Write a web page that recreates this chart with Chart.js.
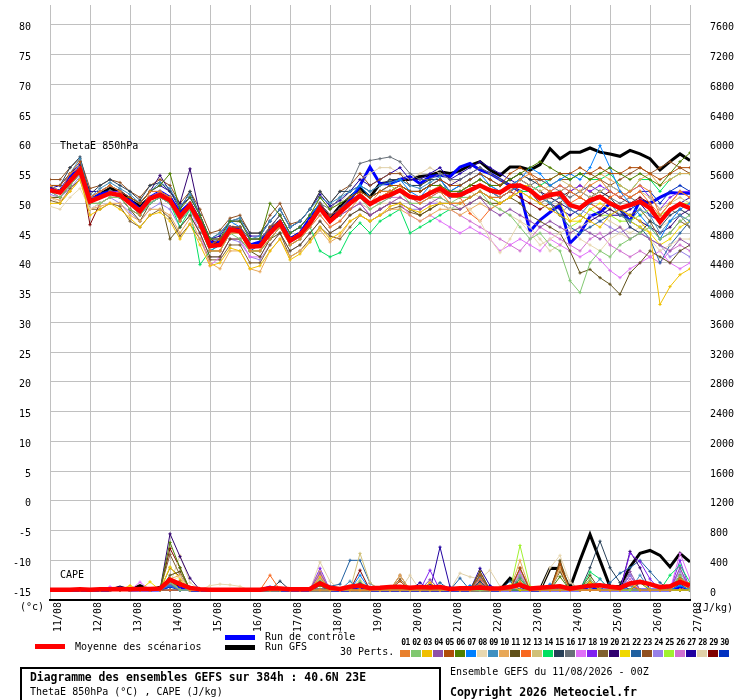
<!DOCTYPE html>
<html><head><meta charset="utf-8">
<script src="https://cdn.jsdelivr.net/npm/chart.js@4.4.1/dist/chart.umd.min.js"></script>
<style>
body{margin:0;background:#fff;}
#wrap{position:relative;width:740px;height:700px;font-family:"DejaVu Sans Mono",monospace;color:#000;overflow:hidden;}
#c{position:absolute;left:0;top:0;}
.t{position:absolute;white-space:pre;font-size:10px;line-height:12px;}
.b{font-weight:bold;}
.sw{position:absolute;}
</style></head><body>
<div id="wrap"><canvas id="c" width="740" height="700"></canvas></div>
<script>
const hours=[0,6,12,18,24,30,36,42,48,54,60,66,72,78,84,90,96,102,108,114,120,126,132,138,144,150,156,162,168,174,180,186,192,198,204,210,216,222,228,234,240,246,252,258,264,270,276,282,288,294,300,306,312,318,324,330,336,342,348,354,360,366,372,378,384];
const dayHours=[0,24,48,72,96,120,144,168,192,216,240,264,288,312,336,360,384];
const dayLabels=['11/08','12/08','13/08','14/08','15/08','16/08','17/08','18/08','19/08','20/08','21/08','22/08','23/08','24/08','25/08','26/08','27/08'];
const leftTicks=[-15,-10,-5,0,5,10,15,20,25,30,35,40,45,50,55,60,65,70,75,80];
const rightTicks=[0,400,800,1200,1600,2000,2400,2800,3200,3600,4000,4400,4800,5200,5600,6000,6400,6800,7200,7600];
const pertNames=['01','02','03','04','05','06','07','08','09','10','11','12','13','14','15','16','17','18','19','20','21','22','23','24','25','26','27','28','29','30'];
const pertColors=['#e8802e','#80c870','#f0c000','#9050a8','#b04c08','#508000','#0080ff','#e8d8b0','#4090c0','#e8a858','#605018','#f86820','#d0c078','#00e060','#284058','#687078','#e070f8','#8020f0','#806030','#300070','#f0d800','#2060a0','#905020','#9880e8','#a0f030','#d070d0','#2000a0','#e0d0a8','#800000','#0030c0'];

// ThetaE 850hPa (°C)
const thetaMean=[52.2,51.8,53.7,55.6,50.3,51,51.7,51.4,50,48.7, 50.8,51.4,50.5,47.8,49.7,46.7,42.8,43,45.6,45.3, 42.7,42.8,45,46.7,43.7,44.7,46.7,49.2,47,48.5, 50,51.3,49.9,50.8,51.4,52.2,51.1,50.8,51.7,52.5, 51.4,51.4,52.2,53,52.2,51.8,52.9,53,52.2,50.8, 51.4,51.7,49.7,49.2,50.5,51.1,50,49.2,49.7,50.3, 49.2,46.9,48.9,49.9,49.2];
const thetaControl=[52.5,52,54.5,56,50.5,51.5,52,51,50.5,49, 51,52,51,48.5,50,47,43.5,43.5,46,45.5, 43,43.5,45.5,47,44,45,47.5,49.5,47,49, 50.5,53,56.1,53.3,53.3,54,54.5,53.3,54.5,54.7, 54.5,56.1,56.7,55.6,55,54,53,52,45.3,47.2, 48.5,49.7,43.3,45,47.8,48.5,50,49,47,50.5, 50,51,51.8,51.7,51.7];
const thetaGFS=[52.5,52,54,56,50.5,51.5,52.5,52,50.5,49.5, 51,51.5,51,48,50,47,43,43.5,46,45.5, 43,43,45.5,47,44,45,47,49.5,47.5,49.5, 51,52.5,51,53.3,53.5,54,54,54.5,54.7,55.3, 55,55.5,56.4,57,55.6,54.7,56.1,56.1,55.6,56.5, 59.2,57.5,58.6,58.6,59.3,58.6,58.3,57.9,58.9,58.3, 57.5,55.6,57,58.3,57.2];
const theta01=[53,52,55,56,51,52,53,52,50,48, 52,52,51,47,50,46,42,42,45,45, 42,42,44,46,43,44,46,48,46,47, 49,51,50,52,52,53,51,50,51,52, 50,50,51,52,51,51,52,54,55,53, 52,53,52,51,53,54,52,51,52,53, 52,48,50,52,51];
const theta02=[52,51,53,55,50,50,51,51,49,48, 50,51,50,47,49,46,42,42,45,44, 42,42,44,46,43,44,46,49,47,48, 50,51,49,50,51,52,50,50,51,51, 50,51,51,52,50,49,48,46,44,45, 43,42,37,35,40,42,41,43,44,45, 46,44,45,47,48];
const theta03=[50,50,52,54,48,49,50,49,47.5,46, 48,48.5,47,44,46.5,43,39.5,40,42.5,42, 39,39.5,42,44,40.5,41.5,43.5,46,44,45, 47,48,47,48,49.5,50,49,48.5,49.5,50, 50,50,51,52,51,50,51,52,51,50, 49,48,47,48,47,46,48,49,48,47, 45,33,36,38,39];
const theta04=[52,52,54,55,51,51,52,51,50,49, 51,52,51,48,50,47,43,43,46,45, 43,43,45,47,44,45,47,49,47,48, 49,50,48,49,50,51,50,49,50,51, 50,49,50,51,49,48,49,48,47,46, 47,46,45,46,45,44,45,46,44,45, 44,43,42,44,43];
const theta05=[53,53,55,57,51,52,53,52,51,50, 52,52,51,48,50,47,43,44,46,46, 43,43,46,47,44,45,47,50,48,49, 51,52,51,52,53,53,52,52,53,54, 53,53,54,55,54,53,55,56,55,54, 54,55,55,56,55,56,55,55,56,56, 55,54,55,56,56];
const theta06=[52,52,54,56,51,51,52,51,51,50, 52,53,55,49,51,48,44,44,47,47, 44,44,50,48,45,46,48,51,49,50, 51,52,51,52,52,53,52,52,53,53, 52,52,53,54,53,53,54,55,56,57, 56,55,54,55,54,55,56,55,54,55, 54,53,55,57,58.5];
const theta07=[53,52,54,56,50,51,52,51,50,48, 50,51,50,47,49,46,42,43,47,46, 43,43,45,47,45,46,48,50,48,49, 51,53,51,52,53,54,52,51,53,54, 52,53,54,55,53,52,53,54,56,55, 53,54,55,54,56,59.7,56,52,50,48, 46,44,47,49,50];
const theta08=[49.5,49,51,52.5,49,50,51,51,50,48, 50,51,50,47,49,46,42,42,45,45, 42,42,45,46,43,44,46,48,46,47, 49,50,49,50,50,51,50,50,51,50, 49,50,49,47,44,41.7,44,47,45,43, 44,45,46,44,43,42,44,45,44,45, 44,42,43,44,44];
const theta09=[53,53,55,57.5,51,52.5,53.5,52.5,51.5,50, 52,53.5,52.5,49.5,51.5,48,44,45,47,47.5, 44,44.5,47,49,46,47,49,51,50,51, 52,53,52,53,53.5,54,53,52.5,53.5,54.5, 51,52,52,53,52,51,52,53,52,51, 50,51,49,48,50,51,50,48,47,49, 48,45,47,48,47];
const theta10=[51,50.5,52,54,49,49.5,50,50,48,47, 49,49,48,45,47.5,44,40,39,42,42, 39,38.5,42,44,41,42,43.5,45.5,43.5,44.5, 47,48,47,48,49,49,48,47,48,49, 49,48,49,50,49,50,51,52,51,50, 51,52,53,52,54,55,54,53,52,54, 55,53,54,55,55];
const theta11=[51,51,53,55,50,50,51,51,49,47, 50,51,44,46,48,45,41,41,44,44, 42,41,44,45,42,43,45,47,45,46, 48,49,48,49,50,50,49,48,49,50, 49,49,50,51,50,50,51,50,48,47, 46,45,42,38.3,38.9,37.5,36.4,34.7,38.3,40, 42,41,40,42,43];
const theta12=[52,52,54,56,50,51,52,51,50,49, 51,51,50,47,50,47,43,43,46,45, 43,43,45,47,44,45,47,49,47,48, 50,51,50,51,52,52,51,51,52,52, 51,51,48.3,47,49,50,51,53,52,51, 52,51,50,51,50,49,51,52,51,52, 50,48,50,52,51];
const theta13=[51,51,53,55,50,51,52,51,50,49, 51,52,51,48,50,47,43,43,46,45, 43,43,45,47,44,45,47,49,47,49, 50,52,50,51,52,53,51,51,52,53, 52,52,53,54,53,52,53,54,53,52, 53,54,53,52,51,52,53,52,51,52, 51,49,50,51,50];
const theta14=[52,52,54,55,50,51,52,51,50,48, 50,51,50,46,49,39.7,42,43,45,45, 42,42,44,46,43,44,46,42,41,41.7, 45,46.7,45,47,48,49,45,46,47,48, 49,50,51,52,51,50,51,52,52,53, 54,55,54,55,54,54,55,53,52,54, 54,52,54,55,55];
const theta15=[53,53,56,57.8,51.5,53,54,53,52,50.5, 53,53.5,52,49,52,48,44,45,47,47.5, 45,45,47,49,46,47,49,52,50,52, 52,53,52,53,54,54,53,53,54,54, 52,53,54,55,54,53,54,55,54,53, 52,51,50,49,51,52,51,49,46,45, 47,46,48,49,48];
const theta16=[52,52,54,56,51,51,52,51,50,49, 51,52,51,48,50,47,43,44,46,46, 44,44,46,48,45,46,48,50,49,51, 53,56.7,57.2,57.5,57.8,57,55,54,54,55, 54,54,55,56,55,54,53,52,53,54, 53,52,51,52,53,52,51,50,51,50, 49,47,49,48,46];
const theta17=[52,51,53,55,50,51,52,51,50,48, 50,51,50,47,49,45,39.5,41,44,44, 41,41,44,46,43,44,46,48,46,47, 49,50,48,49,50,50,48,47,48,47, 46,45,46,45,44,42,43,44,43,42, 44,43,42,41,42,40.5,38.7,37.5,39,40, 41,42,40,39,40];
const theta18=[52,52,54,56,51,51,52,52,50,49, 51,52,51,48,50,47,43,43,46,45, 43,43,45,47,44,45,47,49,47,48, 50,51,50,51,51,52,51,50,51,52, 51,51,52,53,52,51,52,53,52,51, 52,53,52,53,52,53,52,51,52,53, 51,49,51,52,52];
const theta19=[50.5,50,52.5,54,49,49,50,49.5,47,46, 48,49,47.5,44.5,46.5,44,40.5,40.5,43,43, 40,40,43,45,41,42,44,46,44.5,44, 46,48,47,48,49,49.5,48.5,48,49,50, 50,50,51,52,51,51,52,53,52,50, 49,50,52,53,52,51,50,49,48,49, 47,44,45,47,46];
const theta20=[52,52,54,56,51,51,52,52,51,50, 52,54.7,52,50,55.8,48,44,44,46,46, 44,44,46,48,45,46,48,50,48,49, 51,52,51,52,52,53,52,52,53,54, 53,54,55,56,55,54,53,54,53,52, 51,50,49,48,47,48,49,48,48,47, 46,45,46,48,49];
const theta21=[52,52,54,56,50,51,52,51,50,48, 50,51,50,47,49,46,42,42,45,45, 42,42,45,47,44,45,47,49,47,48, 50,51,50,51,52,52,51,51,52,52, 51,51,52,53,52,51,52,53,53,52, 51,50,47,47,49,50,49,48,47,46, 45,43,44,46,47];
const theta22=[52,52,54,56,51,51,52,51,50,49, 51,51,50,48,50,47,43,43,46,45, 43,43,46,47,44,45,47,50,48,49, 51,52,51,52,52,53,52,52,53,53, 52,52,53,54,53,52,53,54,53,52, 50,48,46,45,46,47,48,49,47,46, 44,40,43,45,47];
const theta23=[54,54,56,57.5,52.5,53,54,53.5,52,51, 53,54,53,50,52,49,45,45.5,47.5,48, 45,45,48,50,46.5,47,49,52,50,52, 53,55,53,54,55,55,53,53,54,54, 52,52,53,54,53,53,54,55,54,54, 53,54,54,55,55,54,53,54,55,56, 55,56,57,56,55];
const theta24=[51.5,51,52.5,54.5,49,50,51,50,48.5,47, 49,50,49,46,48,45,41,41,44,43.5, 41,40.5,43,45,42,43,45,47,45,46, 48,49,48,49,50,50,49,49,50,50, 50,50,51,52,51,50,51,52,51,50, 49,48,50,49,48,47,46,45,46,45, 44,43,41,42,41];
const theta25=[52,52,54,55,50,51,52,51,50,48, 50,51,50,47,49,46,42,43,45,45, 42,42,45,47,44,45,47,49,47,48, 50,52,51,52,53,52,51,51,52,53, 51,51,52,53,52,51,52,53,52,51, 50,48,46,47,49,48,48,47,47,48, 49,48,49,50,50];
const theta26=[52,52,54,56,50,51,52,51,50,49, 51,51,50,47,49,46,42,42,45,45, 42,42,45,47,44,45,47,49,47,48, 49,50,49,50,51,51,50,49,50,50, 49,48,47,46,45,44,43,42,44,46, 45,44,43,42,44,45,43,42,41,42, 41,40,42,43,42];
const theta27=[52.5,53,55,56.5,52,52,53,52,51,50, 52,53,52,49.5,51,48,44,44.5,47,47, 44.5,44.5,47,49,46,47,49,51.5,49.5,50.5, 52,54,53,54,55,56,54,54,55,56, 54,55,56,57,56,55,54,53,52,51, 50,49,48,49,50,49,48,48,49,50, 48,47,49,50,51];
const theta28=[51,50,52,54,49,50,51,51,50,48, 50,52,51,48,50,47,43,44,46,47, 44,44,46,48,45,46,48,51,49,50, 52,54,55,56,56,55,54,55,56,55, 54,53,52,51,50,49,48,47,46,44, 42,43,45,46,47,48,47,46,45,46, 47,46,47,48,47];
const theta29=[52,52,54,56,46.4,50,51,51,49,48, 50,51,50,47,49,47,44,43,46,46, 43,43,45,47,44,45,47,49,47,48, 50,51,50,51,52,52,51,51,52,52, 51,52,53,53,52,51,52,51,50,49, 50,51,52,51,50,51,52,51,50,51, 50,47,49,50,49];
const theta30=[52,51,53,55,50,51,52,51,50,49, 51,51,50,47,49,46,42,42,45,45, 42,43,45,47,44,45,47,49,47,48, 50,51,50,51,52,52,51,51,52,52, 51,51,52,53,52,52,53,53,52,50, 51,52,53,52,51,52,53,52,51,52, 52,50,52,53,52];

// CAPE (J/kg)
const capeMean=[5,5,5,10,5,10,10,15,10,15, 15,20,140,80,30,10,5,5,5,5, 5,5,25,20,10,10,15,93,30,15, 45,60,25,30,40,45,30,40,35,40, 15,25,25,35,20,25,40,70,20,30, 40,50,20,40,60,65,45,30,90,110, 80,40,50,110,60];
const capeControl=[0,0,0,0,0,0,0,30,0,0, 0,0,60,30,0,0,0,0,0,0, 0,0,40,0,0,0,0,80,0,0, 0,40,0,0,0,0,0,0,0,0, 0,0,0,60,0,0,0,0,0,0, 0,0,0,0,50,0,0,0,0,0, 0,0,0,40,0];
const capeGFS=[0,0,0,0,0,0,0,40,0,60, 0,40,90,50,0,0,0,0,0,0, 0,0,0,0,0,0,0,0,0,0, 0,0,0,0,0,0,0,0,0,0, 0,0,0,0,0,0,160,60,0,0, 293,290,27,400,747,400,44,50,311,493, 533,467,311,493,378];
const cape01=[0,0,0,0,0,0,0,0,0,0, 0,0,150,60,0,0,0,0,0,0, 0,0,0,0,0,0,0,0,0,0, 0,0,0,0,0,0,0,0,0,0, 0,0,0,80,0,0,0,120,0,0, 0,0,0,0,0,0,0,0,100,0, 0,0,0,150,90];
const cape02=[0,0,0,0,0,0,0,0,0,0, 0,0,100,0,0,0,0,0,0,0, 0,0,0,0,0,0,0,0,0,0, 0,120,0,0,0,0,0,0,0,0, 0,0,0,0,0,0,0,200,0,0, 0,0,0,0,150,0,0,0,0,0, 0,0,0,200,0];
const cape03=[0,0,0,0,0,0,0,0,60,0, 0,0,150,100,0,0,0,0,0,0, 0,0,0,0,0,0,0,180,0,0, 0,0,0,0,0,0,0,0,100,0, 0,0,0,0,0,0,60,0,0,0, 0,0,0,0,0,0,0,0,0,120, 0,0,0,0,0];
const cape04=[0,0,0,0,0,0,0,0,0,0, 0,0,80,0,0,0,0,0,0,0, 0,0,0,0,0,0,0,230,0,0, 0,0,0,0,0,0,0,0,140,0, 0,0,0,0,0,0,0,180,0,0, 0,0,0,0,0,0,0,0,250,0, 0,0,0,300,0];
const cape05=[0,0,0,0,0,0,0,0,0,0, 0,0,100,120,0,0,0,0,0,0, 0,0,0,0,0,0,0,0,0,0, 0,0,0,0,0,120,0,0,0,0, 0,0,0,200,0,0,0,300,0,0, 0,350,0,0,0,0,0,0,0,0, 0,0,0,150,0];
const cape06=[0,0,0,0,0,0,0,0,0,0, 0,0,640,300,0,0,0,0,0,0, 0,0,0,0,0,0,0,60,0,0, 0,0,0,0,0,0,0,0,0,0, 0,0,0,0,0,0,0,0,0,0, 0,180,0,0,0,0,0,0,0,100, 0,0,0,0,0];
const cape07=[0,0,0,0,0,0,0,0,0,0, 0,0,60,0,0,0,0,0,0,0, 0,0,0,0,0,0,0,100,0,0, 0,200,0,0,0,0,0,0,0,0, 0,0,60,0,0,0,0,0,0,0, 80,0,0,0,0,0,0,40,0,0, 0,0,0,60,0];
const cape08=[0,0,0,0,0,0,0,0,0,0, 0,0,120,180,0,0,60,80,70,50, 0,0,0,0,0,0,0,0,0,0, 0,150,0,0,0,0,0,0,0,0, 0,0,0,0,0,0,0,0,0,0, 300,467,100,0,0,0,0,0,0,0, 0,0,0,0,0];
const cape09=[0,0,0,0,0,0,0,0,0,0, 0,0,100,0,0,0,0,0,0,0, 0,0,0,0,0,0,0,0,0,0, 120,0,0,0,0,0,0,0,0,0, 0,0,0,180,0,0,0,0,0,0, 0,0,0,0,0,150,0,0,0,200, 0,0,0,0,0];
const cape10=[0,0,0,0,0,0,0,0,0,0, 0,0,150,200,0,0,0,0,0,0, 0,0,0,0,0,0,0,250,0,0, 0,0,0,0,0,200,0,0,0,0, 0,0,0,0,0,0,0,400,0,0, 0,300,0,0,0,0,0,0,0,0, 0,0,0,120,0];
const cape11=[0,0,0,0,0,0,0,0,0,0, 0,0,200,250,0,0,0,0,0,0, 0,0,0,0,0,0,0,0,0,0, 0,0,0,0,0,0,0,0,0,0, 0,0,0,250,0,0,0,293,0,0, 0,400,0,0,200,0,0,0,0,0, 0,0,0,0,0];
const cape12=[0,0,0,0,0,0,0,0,0,0, 0,0,0,0,0,0,0,0,0,0, 0,0,200,0,0,0,0,60,0,0, 0,0,0,0,0,0,0,0,0,0, 0,0,0,150,0,0,0,100,0,0, 0,0,0,0,0,0,0,0,80,0, 0,0,0,0,80];
const cape13=[0,0,0,0,0,0,0,0,0,0, 0,0,120,0,0,0,0,0,0,0, 0,0,0,0,0,0,0,150,0,0, 0,493,100,0,0,0,0,0,0,0, 0,0,0,0,0,0,0,0,0,0, 0,280,0,0,0,0,0,0,0,0, 0,0,0,100,0];
const cape14=[0,0,0,0,0,0,0,0,0,0, 0,0,80,0,0,0,0,0,0,0, 0,0,0,0,0,0,0,120,0,0, 0,0,0,0,0,0,0,0,0,0, 0,0,0,0,0,0,0,150,0,0, 0,0,0,0,244,150,0,0,0,0, 0,0,200,333,100];
const cape15=[0,0,0,0,0,0,0,30,0,0, 0,0,0,0,0,0,0,0,0,0, 0,0,0,120,0,0,0,0,0,0, 0,0,0,0,0,0,0,0,0,0, 0,0,0,120,0,0,0,0,0,0, 0,0,100,0,300,657,300,100,0,0, 0,0,0,80,0];
const cape16=[0,0,0,0,0,0,0,0,0,0, 0,0,60,0,0,0,0,0,0,0, 0,0,0,0,0,0,0,100,0,0, 0,0,0,0,0,0,0,0,0,0, 0,0,0,100,0,0,0,0,0,0, 0,0,0,0,0,0,0,0,60,0, 0,0,0,0,0];
const cape17=[0,0,0,0,0,0,44,0,0,107, 0,0,100,0,0,0,0,0,0,0, 0,0,0,0,0,0,0,200,0,0, 0,0,0,0,0,0,0,0,100,0, 0,0,0,0,0,0,0,227,0,0, 0,0,0,0,0,0,0,0,0,0, 0,0,0,493,150];
const cape18=[0,0,0,0,0,0,0,0,0,0, 0,0,100,0,0,0,0,0,0,0, 0,0,0,0,0,0,0,293,0,0, 0,0,0,0,0,0,0,0,267,0, 0,0,0,0,0,0,0,0,0,0, 0,0,0,0,0,0,0,0,493,380, 150,0,0,400,0];
const cape19=[0,0,0,0,0,0,0,0,0,0, 0,0,480,200,0,0,0,0,0,0, 0,0,0,0,0,0,0,0,0,0, 0,0,0,0,0,150,0,0,0,0, 0,0,0,200,0,0,0,0,0,0, 0,250,0,0,0,0,0,0,0,0, 0,0,0,160,0];
const cape20=[0,0,0,0,0,0,0,0,0,0, 0,0,756,450,160,0,0,0,0,0, 0,0,0,0,0,0,0,0,0,0, 0,100,0,0,0,0,0,0,80,0, 0,0,0,0,0,0,0,0,0,0, 0,0,0,0,0,0,0,0,520,300, 0,0,0,150,0];
const cape21=[0,0,0,0,0,0,0,0,0,0, 111,0,311,150,0,0,0,0,0,0, 0,0,0,0,0,0,0,80,0,0, 0,0,0,0,0,0,0,0,0,0, 0,0,0,0,0,0,0,100,0,0, 0,0,0,0,100,0,0,0,0,0, 0,0,0,130,0];
const cape22=[0,0,0,0,0,0,0,0,0,0, 0,0,0,0,0,0,0,0,0,0, 0,0,0,0,0,0,0,150,50,80, 400,400,93,0,0,0,0,0,0,100, 0,160,0,0,0,0,120,0,0,0, 0,0,0,0,0,0,100,227,300,400, 250,100,0,0,0];
const cape23=[0,0,0,0,0,0,0,0,0,0, 0,0,300,180,0,0,0,0,0,0, 0,0,0,0,0,0,0,0,0,0, 0,0,0,0,0,200,0,0,0,0, 0,0,0,250,0,0,0,150,0,0, 0,380,0,0,120,0,0,0,0,0, 0,0,0,0,0];
const cape24=[0,0,0,0,0,0,0,0,0,0, 0,0,90,0,0,0,0,0,0,0, 0,0,0,0,0,0,0,200,0,0, 0,0,0,0,0,0,0,0,0,0, 0,0,0,120,0,0,0,0,0,0, 0,0,0,0,0,0,0,0,200,0, 0,0,0,250,0];
const cape25=[0,0,0,0,0,0,0,0,0,0, 0,0,150,0,0,0,0,0,0,0, 0,0,0,0,0,0,0,0,0,0, 0,120,0,0,0,0,0,0,0,0, 0,0,0,0,0,0,0,600,50,0, 0,0,0,0,150,0,0,0,0,0, 0,0,0,180,0];
const cape26=[0,0,0,0,0,0,0,0,0,0, 0,0,80,0,0,0,0,0,0,0, 0,0,0,0,0,0,0,180,0,0, 0,0,0,0,0,0,0,0,0,0, 0,0,0,150,0,0,0,250,0,0, 0,0,0,0,0,0,0,0,150,0, 0,0,0,300,0];
const cape27=[0,0,0,0,0,0,0,0,0,0, 0,0,100,0,0,0,0,0,0,0, 0,0,0,0,0,0,0,80,0,0, 0,0,0,0,0,0,0,100,0,578, 40,0,0,293,60,0,0,0,0,0, 0,0,0,0,0,0,0,0,200,0, 0,0,0,0,0];
const cape28=[0,0,0,0,0,0,0,0,0,0, 0,0,80,467,100,0,0,0,0,0, 0,0,0,0,0,0,0,378,120,0, 0,0,0,0,0,0,200,0,0,0, 0,227,178,150,267,50,0,0,0,0, 0,350,120,0,0,0,0,0,0,0, 0,0,0,0,0];
const cape29=[0,0,0,0,0,0,0,0,0,0, 0,0,560,300,0,0,0,0,0,0, 0,0,0,0,0,0,0,120,0,0, 0,267,0,0,0,0,0,0,0,0, 0,0,0,180,0,0,0,0,0,0, 0,0,0,0,100,0,0,0,0,0, 0,0,0,200,0];
const cape30=[0,0,0,0,0,0,0,0,0,0, 0,0,40,0,0,0,0,0,0,0, 0,0,0,0,0,0,0,150,0,0, 0,0,0,0,0,0,0,0,0,0, 0,0,0,80,0,0,0,0,0,0, 0,0,0,0,60,0,0,0,0,0, 0,0,0,100,0];

const thetaPerts=[theta01,theta02,theta03,theta04,theta05,theta06,theta07,theta08,theta09,theta10,theta11,theta12,theta13,theta14,theta15,theta16,theta17,theta18,theta19,theta20,theta21,theta22,theta23,theta24,theta25,theta26,theta27,theta28,theta29,theta30];
const capePerts=[cape01,cape02,cape03,cape04,cape05,cape06,cape07,cape08,cape09,cape10,cape11,cape12,cape13,cape14,cape15,cape16,cape17,cape18,cape19,cape20,cape21,cape22,cape23,cape24,cape25,cape26,cape27,cape28,cape29,cape30];

function pts(arr){return arr.map((v,i)=>({x:hours[i],y:v}));}
const datasets=[];
function thin(arr,col,axis){return {data:pts(arr),yAxisID:axis,borderColor:col,backgroundColor:col,borderWidth:1,pointRadius:1.6,pointStyle:'cross',pointBorderWidth:1,pointBorderColor:col,order:3};}
function thick(arr,col,w,axis,ord){return {data:pts(arr),yAxisID:axis,borderColor:col,backgroundColor:col,borderWidth:w,pointRadius:0,order:ord};}
// control and GFS drawn first (underneath), perturbations, then the mean on top
datasets.push(thick(thetaGFS,'#000000',3,'y',5));
datasets.push(thick(capeGFS,'#000000',3,'y2',5));
datasets.push(thick(thetaControl,'#0000ff',3,'y',4));
datasets.push(thick(capeControl,'#0000ff',3,'y2',4));
for(let k=0;k<30;k++){
  datasets.push(thin(thetaPerts[k],pertColors[k],'y'));
  datasets.push(thin(capePerts[k],pertColors[k],'y2'));
}
datasets.push(thick(thetaMean,'#ff0000',4.5,'y',0));
datasets.push(thick(capeMean,'#ff0000',4.5,'y2',0));

const tickFont={family:'DejaVu Sans Mono',size:10};
new Chart(document.getElementById('c'),{
  type:'line',
  data:{datasets},
  options:{
    responsive:false,animation:false,devicePixelRatio:1,
    layout:{padding:{left:0,right:0,top:0,bottom:60}},
    elements:{line:{tension:0}},
    plugins:{legend:{display:false},tooltip:{enabled:false}},
    scales:{
      x:{type:'linear',min:0,max:384,position:'bottom',
        afterBuildTicks:s=>{s.ticks=dayHours.map(v=>({value:v}));},
        ticks:{autoSkip:false,maxRotation:90,minRotation:90,padding:2,labelOffset:8,color:'#000',font:tickFont,
          callback:v=>dayLabels[dayHours.indexOf(v)]},
        grid:{color:'#c0c0c0',lineWidth:1,drawTicks:false},
        border:{display:true,color:'#000',width:2},
        afterFit:s=>{s.height=40;s.paddingLeft=0;s.paddingRight=0;}
      },
      y:{type:'linear',position:'left',min:-16.6667,max:83.3333,
        afterBuildTicks:s=>{s.ticks=leftTicks.map(v=>({value:v}));},
        ticks:{padding:19,labelOffset:3,color:'#000',font:tickFont,callback:v=>String(v)},
        grid:{color:'#c0c0c0',lineWidth:1,drawTicks:false},
        border:{display:false},
        afterFit:s=>{s.width=50;s.paddingTop=0;s.paddingBottom=0;}
      },
      y2:{type:'linear',position:'right',min:-133.333,max:7866.667,
        afterBuildTicks:s=>{s.ticks=rightTicks.map(v=>({value:v}));},
        ticks:{padding:20,labelOffset:3,color:'#000',font:tickFont,callback:v=>String(v)},
        grid:{display:false,drawTicks:false},
        border:{display:false},
        afterFit:s=>{s.width=50;s.paddingTop=0;s.paddingBottom=0;}
      }
    }
  }
});

// overlays
const wrap=document.getElementById('wrap');
function txt(s,l,t,cls,extra){const d=document.createElement('div');d.className='t '+(cls||'');d.textContent=s;d.style.left=l+'px';d.style.top=t+'px';if(extra)Object.assign(d.style,extra);wrap.appendChild(d);return d;}
function box(l,t,w,h,bg,extra){const d=document.createElement('div');d.className='sw';Object.assign(d.style,{left:l+'px',top:t+'px',width:w+'px',height:h+'px',background:bg},extra||{});wrap.appendChild(d);return d;}
txt('ThetaE 850hPa',60,140);
txt('CAPE',60,569);
txt('(°c)',20,601);
txt('(J/kg)',697,602);
box(35,644,30,5,'#ff0000');
txt('Moyenne des scénarios',75,641);
box(225,635,30,5,'#0000ff');
txt('Run de contrôle',265,631);
box(225,645,30,5,'#000000');
txt('Run GFS',265,641);
txt('30 Perts.',340,646);
pertNames.forEach((n,k)=>{
  txt(n,400+11*k,638,'b',{fontSize:'8px',lineHeight:'10px',width:'11px',textAlign:'center',letterSpacing:'-0.5px'});
  box(400+11*k,650,10,7,pertColors[k]);
});
box(20,667,421,40,'transparent',{border:'2px solid #000',boxSizing:'border-box'});
txt('Diagramme des ensembles GEFS sur 384h : 40.6N 23E',30,670,'b',{fontSize:'11.4px',lineHeight:'14px'});
txt('ThetaE 850hPa (°C) , CAPE (J/kg)',30,686);
txt('Ensemble GEFS du 11/08/2026 - 00Z',450,666);
txt('Copyright 2026 Meteociel.fr',450,685,'b',{fontSize:'11.5px',lineHeight:'14px'});
</script>
</body></html>
